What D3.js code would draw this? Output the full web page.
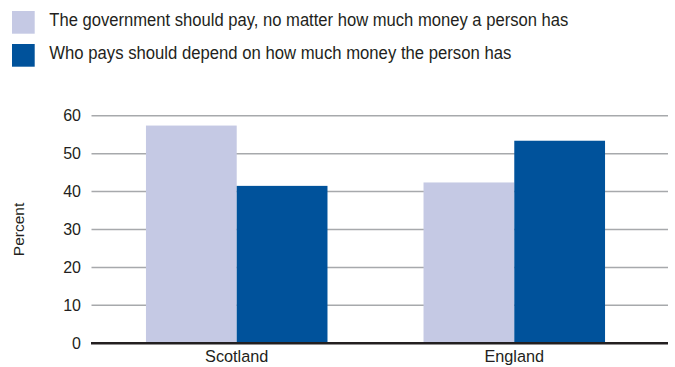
<!DOCTYPE html>
<html>
<head>
<meta charset="utf-8">
<script src="https://cdn.jsdelivr.net/npm/d3@7"></script>
<style>
  body { margin: 0; background: #fff; }
  text { font-family: "Liberation Sans Narrow", "Arial Narrow", "Liberation Sans", sans-serif; fill: #231f20; }
</style>
</head>
<body>
<div id="container"></div>
<script>
const categories = ["Scotland", "England"];
const seriesNames = [
  "The government should pay, no matter how much money a person has",
  "Who pays should depend on how much money the person has"
];
const governmentPays = [57.4, 42.4];
const dependsOnMoney = [41.5, 53.4];
const yTicks = [0, 10, 20, 30, 40, 50, 60];
const colors = ["#c5c9e4", "#00529b"];

const width = 675, height = 367;
const legendWidths = [519, 462];

let svg = d3.select("#container").append("svg")
  .attr("width", width)
  .attr("height", height);

// legend
let legend = svg.selectAll("g.legend").data(seriesNames).enter()
  .append("g")
  .attr("class", "legend")
  .attr("transform", (d, i) => `translate(12, ${11 + i * 33})`);
legend.append("rect")
  .attr("width", 22.7)
  .attr("height", 22.7)
  .attr("fill", (d, i) => colors[i]);
legend.append("text")
  .attr("x", 37.3)
  .attr("y", 15.3)
  .style("font-size", "17.5px")
  .attr("textLength", (d, i) => legendWidths[i])
  .attr("lengthAdjust", "spacingAndGlyphs")
  .text((d) => d);

// scales
let yScale = d3.scaleLinear().domain([0, 60]).range([343.3, 115.7]);
let xScale = d3.scaleBand()
  .domain(categories)
  .range([98.5, 652.5])
  .paddingInner(0.346)
  .paddingOuter(0.171);
let xInner = d3.scaleBand()
  .domain([0, 1])
  .range([0, xScale.bandwidth()]);

// gridlines
svg.selectAll("line.grid").data(yTicks.filter((d) => d > 0)).enter()
  .append("line")
  .attr("class", "grid")
  .attr("x1", 91.5)
  .attr("x2", 668)
  .attr("y1", (d) => yScale(d))
  .attr("y2", (d) => yScale(d))
  .attr("stroke", "#a7a9ac")
  .attr("stroke-width", 1.5);

// y axis labels
let yAxis = d3.axisLeft(yScale).tickValues(yTicks).tickSize(0).tickPadding(0);
let yg = svg.append("g").attr("transform", "translate(81,0)").call(yAxis);
yg.select(".domain").remove();
yg.selectAll("text")
  .style("font-size", "16px")
  .style("font-family", "'Liberation Sans Narrow', 'Arial Narrow', sans-serif")
  .attr("fill", "#231f20");

svg.append("text")
  .attr("transform", "translate(23.5,229.5) rotate(-90)")
  .attr("text-anchor", "middle")
  .style("font-size", "15.5px")
  .text("Percent");

// bars
let rows = categories.map((c, i) => ({ cat: c, values: [governmentPays[i], dependsOnMoney[i]] }));
let groups = svg.selectAll("g.cat").data(rows).enter()
  .append("g")
  .attr("class", "cat")
  .attr("transform", (d) => `translate(${xScale(d.cat)},0)`);
groups.selectAll("rect").data((d) => d.values).enter()
  .append("rect")
  .attr("x", (d, i) => xInner(i))
  .attr("width", xInner.bandwidth())
  .attr("y", (d) => yScale(d))
  .attr("height", (d) => yScale(0) - yScale(d))
  .attr("fill", (d, i) => colors[i]);

// x axis
svg.append("line")
  .attr("x1", 91)
  .attr("x2", 668)
  .attr("y1", yScale(0))
  .attr("y2", yScale(0))
  .attr("stroke", "#231f20")
  .attr("stroke-width", 2.5);

let xAxis = d3.axisBottom(xScale).tickSize(0).tickPadding(0);
let xg = svg.append("g").attr("transform", `translate(0,${yScale(0) + 7.5})`).call(xAxis);
xg.select(".domain").remove();
xg.selectAll("text")
  .style("font-size", "16.3px")
  .style("font-family", "'Liberation Sans Narrow', 'Arial Narrow', sans-serif")
  .attr("fill", "#231f20");
</script>
</body>
</html>
